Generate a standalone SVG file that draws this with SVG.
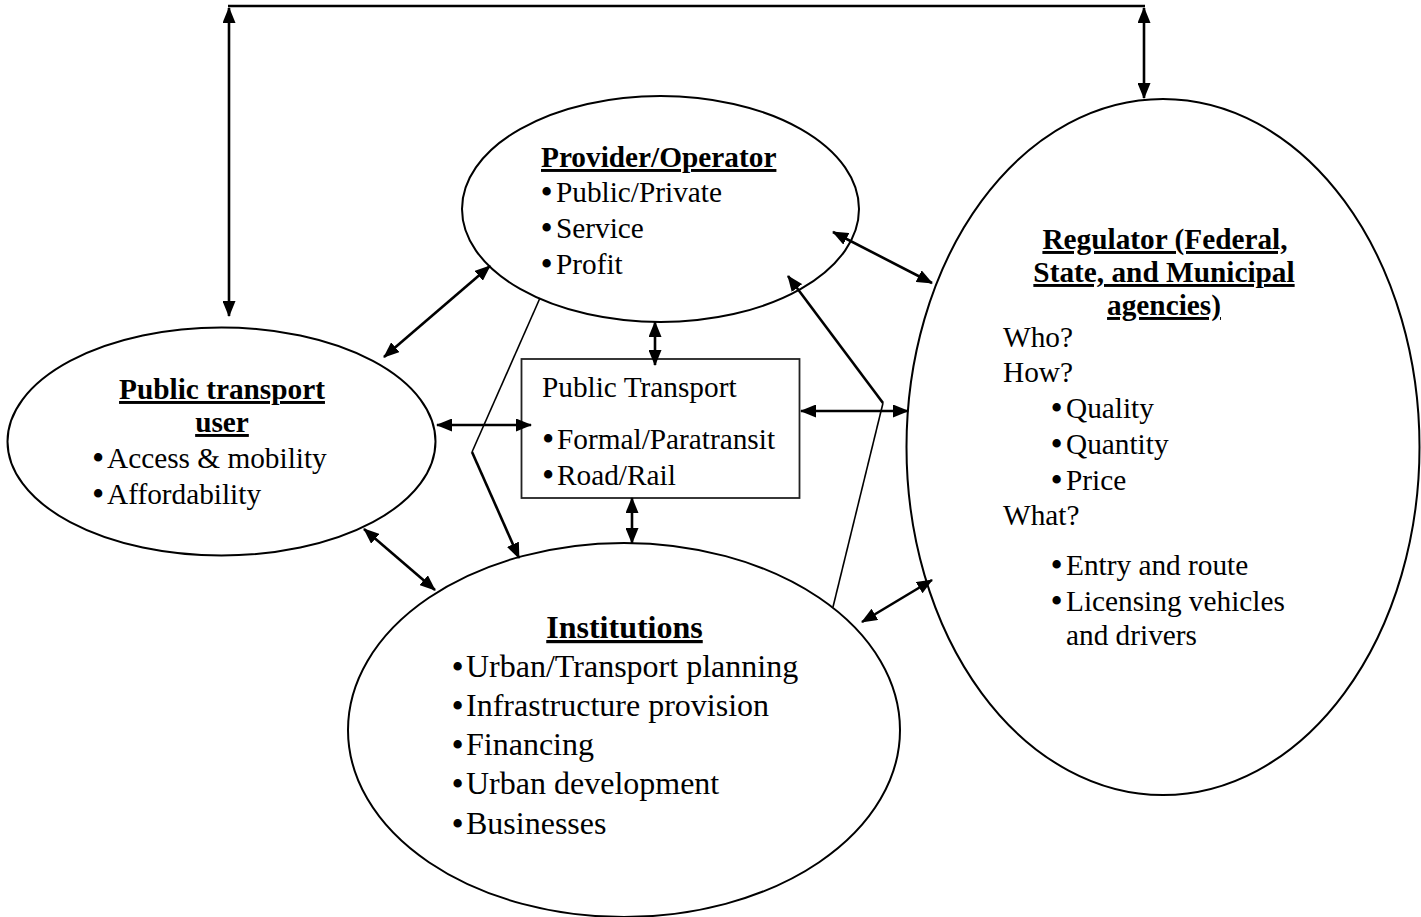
<svg xmlns="http://www.w3.org/2000/svg" width="1421" height="917" viewBox="0 0 1421 917">
<style>
  .shape { fill: #fff; stroke: #000; stroke-width: 2; }
  .box { fill: #fff; stroke: #222; stroke-width: 1.8; }
  .t { font-family: "Liberation Serif", "Times New Roman", serif; font-size: 29.3px; fill: #000; }
  .ti { font-family: "Liberation Serif", "Times New Roman", serif; font-size: 32px; fill: #000; }
  .bt { font-size: 35px; }
  .h { font-weight: bold; text-decoration: underline; text-decoration-skip-ink: none; }
  .c { text-anchor: middle; }
  .arr { fill: none; stroke: #000; stroke-width: 2.6; marker-start: url(#ah); marker-end: url(#ah); }
  .one { fill: none; stroke: #000; stroke-width: 2.6; marker-end: url(#ah); }
  .thin { fill: none; stroke: #000; stroke-width: 1.6; }
  .top { fill: none; stroke: #000; stroke-width: 2.6; }
</style>
<defs>
  <marker id="ah" viewBox="0 0 16 13" markerWidth="16" markerHeight="13" refX="15" refY="6.5" orient="auto-start-reverse" markerUnits="userSpaceOnUse">
    <path d="M0,0 L16,6.5 L0,13 z" fill="#000"/>
  </marker>
</defs>

<g id="provider">
  <ellipse class="shape" cx="660.5" cy="209" rx="198.5" ry="113"/>
  <text class="t h" x="541" y="167">Provider/Operator</text>
  <text class="t" y="202"><tspan class="bt" x="540.4" dy="2">•</tspan><tspan x="556" dy="-2">Public/Private</tspan></text>
  <text class="t" y="238"><tspan class="bt" x="540.4" dy="2">•</tspan><tspan x="556" dy="-2">Service</tspan></text>
  <text class="t" y="274"><tspan class="bt" x="540.4" dy="2">•</tspan><tspan x="556" dy="-2">Profit</tspan></text>
</g>

<g id="user">
  <ellipse class="shape" cx="221.5" cy="441.5" rx="214" ry="114"/>
  <text class="t h c" x="222" y="399">Public transport</text>
  <text class="t h c" x="222" y="432">user</text>
  <text class="t" y="468"><tspan class="bt" x="91.9" dy="2">•</tspan><tspan x="107" dy="-2">Access &amp; mobility</tspan></text>
  <text class="t" y="504"><tspan class="bt" x="91.9" dy="2">•</tspan><tspan x="107" dy="-2">Affordability</tspan></text>
</g>

<g id="public-transport">
  <rect class="box" x="521.5" y="359" width="278" height="139"/>
  <text class="t" x="542" y="397">Public Transport</text>
  <text class="t" y="449"><tspan class="bt" x="541.9" dy="2">•</tspan><tspan x="557" dy="-2">Formal/Paratransit</tspan></text>
  <text class="t" y="485"><tspan class="bt" x="541.9" dy="2">•</tspan><tspan x="557" dy="-2">Road/Rail</tspan></text>
</g>

<g id="institutions">
  <ellipse class="shape" cx="624" cy="730" rx="276" ry="187"/>
  <text class="ti h c" x="624.5" y="638">Institutions</text>
  <text class="ti" y="677"><tspan class="bt" x="451.4" dy="2">•</tspan><tspan x="466" dy="-2">Urban/Transport planning</tspan></text>
  <text class="ti" y="716"><tspan class="bt" x="451.4" dy="2">•</tspan><tspan x="466" dy="-2">Infrastructure provision</tspan></text>
  <text class="ti" y="755"><tspan class="bt" x="451.4" dy="2">•</tspan><tspan x="466" dy="-2">Financing</tspan></text>
  <text class="ti" y="794"><tspan class="bt" x="451.4" dy="2">•</tspan><tspan x="466" dy="-2">Urban development</tspan></text>
  <text class="ti" y="834"><tspan class="bt" x="451.4" dy="2">•</tspan><tspan x="466" dy="-2">Businesses</tspan></text>
</g>

<g id="regulator">
  <ellipse class="shape" cx="1163" cy="447" rx="256.5" ry="348"/>
  <text class="t h c" x="1165" y="249">Regulator (Federal,</text>
  <text class="t h c" x="1164" y="282">State, and Municipal</text>
  <text class="t h c" x="1164" y="315">agencies)</text>
  <text class="t" x="1003" y="347">Who?</text>
  <text class="t" x="1003" y="382">How?</text>
  <text class="t" y="418"><tspan class="bt" x="1050.4" dy="2">•</tspan><tspan x="1066" dy="-2">Quality</tspan></text>
  <text class="t" y="454"><tspan class="bt" x="1050.4" dy="2">•</tspan><tspan x="1066" dy="-2">Quantity</tspan></text>
  <text class="t" y="490"><tspan class="bt" x="1050.4" dy="2">•</tspan><tspan x="1066" dy="-2">Price</tspan></text>
  <text class="t" x="1003" y="525">What?</text>
  <text class="t" y="575"><tspan class="bt" x="1050.4" dy="2">•</tspan><tspan x="1066" dy="-2">Entry and route</tspan></text>
  <text class="t" y="611"><tspan class="bt" x="1050.4" dy="2">•</tspan><tspan x="1066" dy="-2">Licensing vehicles</tspan></text>
  <text class="t" x="1066" y="645">and drivers</text>
</g>

<g id="connectors">
  <line class="top" x1="228" y1="6" x2="1145" y2="6"/>
  <line class="arr" x1="229" y1="8" x2="229" y2="316"/>
  <line class="arr" x1="1144" y1="8" x2="1144" y2="98"/>
  <line class="arr" x1="384" y1="357" x2="490" y2="266"/>
  <line class="arr" x1="437" y1="425" x2="531" y2="425"/>
  <line class="arr" x1="655" y1="322" x2="655" y2="365"/>
  <line class="arr" x1="632" y1="498" x2="632" y2="543"/>
  <line class="arr" x1="364" y1="529" x2="435" y2="590"/>
  <line class="arr" x1="801" y1="411" x2="908" y2="411"/>
  <line class="arr" x1="833" y1="232" x2="932" y2="283"/>
  <line class="arr" x1="862" y1="622" x2="932" y2="580"/>
  <line class="thin" x1="540" y1="298" x2="472" y2="452"/>
  <line class="one" x1="472" y1="452" x2="519" y2="558"/>
  <line class="thin" x1="833" y1="607" x2="883" y2="403"/>
  <line class="one" x1="883" y1="403" x2="788" y2="276"/>
</g>
</svg>
